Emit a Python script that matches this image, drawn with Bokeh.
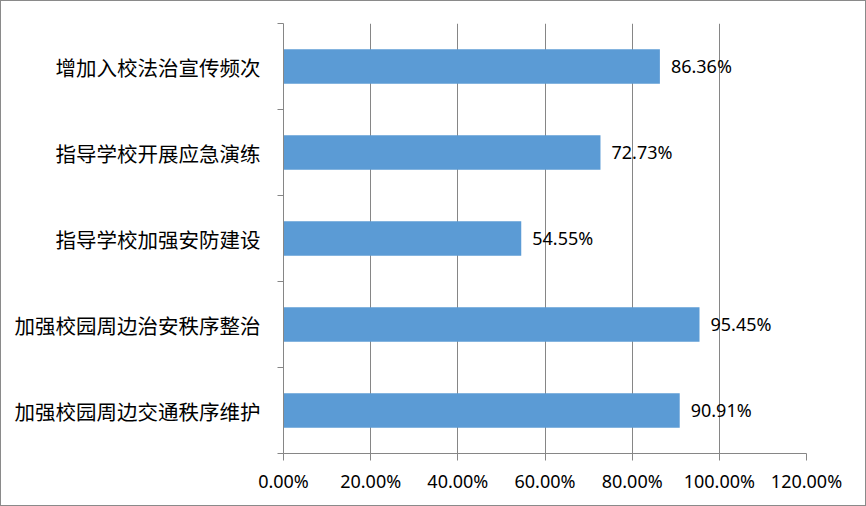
from bokeh.plotting import figure
from bokeh.models import FixedTicker, ColumnDataSource, LabelSet
from bokeh.core.properties import value
from bokeh.embed import file_html
from bokeh.resources import INLINE

# Data (bottom to top, as in the source chart)
categories = ["加强校园周边交通秩序维护", "加强校园周边治安秩序整治", "指导学校加强安防建设",
              "指导学校开展应急演练", "增加入校法治宣传频次"]
values = [90.91, 95.45, 54.55, 72.73, 86.36]
x_ticks = [0, 20, 40, 60, 80, 100, 120]
x_tick_labels = ["0.00%", "20.00%", "40.00%", "60.00%", "80.00%", "100.00%", "120.00%"]

pos = [i + 0.5 for i in range(len(categories))]
src = ColumnDataSource(dict(y=pos, v=values, lab=["{:.2f}%".format(v) for v in values]))

p = figure(width=866, height=506, output_backend="svg", toolbar_location=None,
           x_range=(0, 120), y_range=(0, len(categories)),
           min_border_left=282, min_border_right=61, min_border_top=22, min_border_bottom=54)
p.outline_line_color = None
p.background_fill_color = "white"
p.border_fill_color = "white"
p.styles = {"border": "1px solid #8a8a8a", "box-sizing": "border-box"}

p.hbar(y="y", right="v", left=0, height=0.4, source=src, color="#5B9BD5", line_color=None)

labels = LabelSet(x="v", y="y", text="lab", source=src, x_offset=11, y_offset=1, text_baseline="middle",
                  text_font=value("Noto Sans"), text_font_size="18px", text_color="#000000")
p.add_layout(labels)

# X axis
p.xaxis.ticker = FixedTicker(ticks=x_ticks, minor_ticks=[])
p.xaxis.major_label_overrides = {t: l for t, l in zip(x_ticks, x_tick_labels)}
p.xaxis.major_label_text_font = "Noto Sans"
p.xaxis.major_label_text_font_size = "18px"
p.xaxis.major_label_text_color = "#000000"
p.xaxis.axis_line_color = "#868686"
p.xaxis.major_tick_line_color = "#868686"
p.xaxis.major_tick_in = 0
p.xaxis.major_tick_out = 7
p.xaxis.major_label_standoff = 8

# Y axis: labels at band centers, tick marks at band boundaries
p.yaxis.ticker = FixedTicker(ticks=pos, minor_ticks=list(range(len(categories) + 1)))
p.yaxis.major_label_overrides = {y: c for y, c in zip(pos, categories)}
p.yaxis.major_label_text_font = "Noto Sans CJK SC"
p.yaxis.major_label_text_font_size = "20.5px"
p.yaxis.major_label_text_color = "#000000"
p.yaxis.axis_line_color = "#868686"
p.yaxis.major_tick_line_color = None
p.yaxis.major_tick_in = 0
p.yaxis.major_tick_out = 0
p.yaxis.minor_tick_line_color = "#868686"
p.yaxis.minor_tick_in = 0
p.yaxis.minor_tick_out = 6
p.yaxis.major_label_standoff = 17

p.xgrid.ticker = FixedTicker(ticks=x_ticks)
p.xgrid.grid_line_color = "#868686"
p.ygrid.grid_line_color = None

open("out.html", "w").write(file_html(p, INLINE))
